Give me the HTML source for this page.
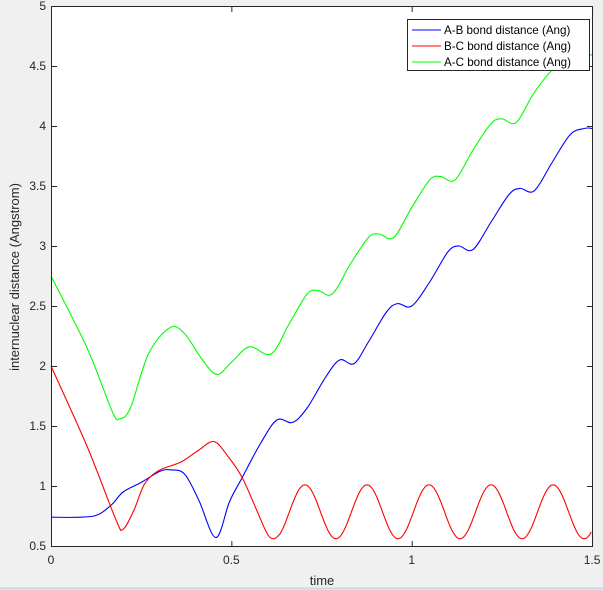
<!DOCTYPE html>
<html><head><meta charset="utf-8"><style>
html,body{margin:0;padding:0;background:#f0f0f0;}
svg{display:block;font-family:"Liberation Sans",Arial,sans-serif;}
</style></head><body>
<svg id="s" width="603" height="590" xmlns="http://www.w3.org/2000/svg">
<rect x="0" y="0" width="603" height="590" fill="#f0f0f0"/>
<line x1="0" y1="588.5" x2="603" y2="588.5" stroke="#c7d9ea" stroke-width="2"/>
<rect x="51" y="6" width="541" height="540" fill="#fff"/>
<g id="curves" fill="none" stroke-width="1.1"></g>
<rect x="51.5" y="6.5" width="541" height="540" fill="none" stroke="#262626" stroke-width="1"/>
<g id="ticks" stroke="#262626" stroke-width="1"></g>
<g id="labels" fill="#262626" font-size="12"></g>
<text x="322" y="585" font-size="13" fill="#262626" text-anchor="middle">time</text>
<text transform="translate(19,277) rotate(-90)" font-size="13" fill="#262626" text-anchor="middle">internuclear distance (Angstrom)</text>
<rect x="407.5" y="19.5" width="182" height="51" fill="#fff" stroke="#262626" stroke-width="1"/>
<line x1="412" y1="30" x2="441" y2="30" stroke="#0000ff"/>
<line x1="412" y1="46" x2="441" y2="46" stroke="#ff0000"/>
<line x1="412" y1="62" x2="441" y2="62" stroke="#00ff00"/>
<g font-size="11.6" fill="#000">
<text x="444" y="34">A-B bond distance (Ang)</text>
<text x="444" y="50">B-C bond distance (Ang)</text>
<text x="444" y="66">A-C bond distance (Ang)</text>
</g>
</svg>
<script>
var X=t=>51+360.7*t, Y=v=>546-120*(v-0.5);
var NS="http://www.w3.org/2000/svg";
function el(p,n,a){var e=document.createElementNS(NS,n);for(var k in a)e.setAttribute(k,a[k]);p.appendChild(e);return e;}
var tk=document.getElementById('ticks'),lb=document.getElementById('labels');
[0,0.5,1,1.5].forEach(function(t){var x=X(t)+0.5;
 el(tk,'line',{x1:x,y1:546,x2:x,y2:541});el(tk,'line',{x1:x,y1:7,x2:x,y2:12});
 var tx=el(lb,'text',{x:X(t),y:564,'text-anchor':'middle'});tx.textContent=String(t);});
for(var v=0.5;v<=5.01;v+=0.5){var y=Y(v)+0.5;
 el(tk,'line',{x1:52,y1:y,x2:57,y2:y});el(tk,'line',{x1:592,y1:y,x2:587,y2:y});
 var tx=el(lb,'text',{x:46,y:Y(v)+4,'text-anchor':'end'});tx.textContent=String(Math.round(v*10)/10);}
function cr(pts){var d='M'+X(pts[0][0]).toFixed(1)+' '+Y(pts[0][1]).toFixed(1);
 for(var i=0;i<pts.length-1;i++){var p0=pts[Math.max(i-1,0)],p1=pts[i],p2=pts[i+1],p3=pts[Math.min(i+2,pts.length-1)];
  var a=[X(p1[0])+(X(p2[0])-X(p0[0]))/6,Y(p1[1])+(Y(p2[1])-Y(p0[1]))/6],b=[X(p2[0])-(X(p3[0])-X(p1[0]))/6,Y(p2[1])-(Y(p3[1])-Y(p1[1]))/6];
  d+=' C'+a[0].toFixed(1)+' '+a[1].toFixed(1)+' '+b[0].toFixed(1)+' '+b[1].toFixed(1)+' '+X(p2[0]).toFixed(1)+' '+Y(p2[1]).toFixed(1);}
 return d;}
var g=document.getElementById('curves');
var green=[[0,2.75],[0.1,2.15],[0.17,1.62],[0.19,1.56],[0.22,1.65],[0.27,2.1],[0.33,2.32],[0.37,2.27],[0.42,2.05],[0.46,1.93],[0.5,2.03],[0.55,2.16],[0.61,2.1],[0.66,2.35],[0.71,2.6],[0.74,2.63],[0.78,2.6],[0.83,2.85],[0.88,3.07],[0.91,3.1],[0.95,3.07],[1.0,3.32],[1.05,3.55],[1.08,3.58],[1.12,3.55],[1.17,3.8],[1.22,4.02],[1.25,4.06],[1.29,4.03],[1.34,4.28],[1.4,4.5],[1.43,4.52],[1.46,4.5],[1.5,4.6]];
var blue=[[0,0.74],[0.08,0.74],[0.13,0.76],[0.17,0.85],[0.2,0.95],[0.25,1.03],[0.3,1.12],[0.33,1.135],[0.37,1.1],[0.41,0.88],[0.457,0.57],[0.495,0.87],[0.53,1.07],[0.58,1.35],[0.626,1.55],[0.67,1.53],[0.71,1.65],[0.76,1.9],[0.8,2.05],[0.84,2.02],[0.88,2.2],[0.93,2.45],[0.96,2.52],[1.0,2.5],[1.05,2.7],[1.1,2.95],[1.13,3.0],[1.17,2.97],[1.22,3.2],[1.27,3.43],[1.3,3.48],[1.34,3.46],[1.39,3.7],[1.44,3.93],[1.48,3.98],[1.5,3.98]];
var f=t=>0.785-0.225*Math.cos(2*Math.PI*(t-0.618)/0.172);
var red=[[0,2.0],[0.1,1.33],[0.18,0.72],[0.2,0.64],[0.23,0.8],[0.26,1.02],[0.3,1.13],[0.36,1.2],[0.41,1.3],[0.452,1.37],[0.49,1.25],[0.53,1.07],[0.57,0.8],[0.6,0.6],[0.618,0.56],[0.635,0.6]];
var d=cr(red);
for(var t=0.638;t<=1.5001;t+=0.004){d+=' L'+X(t).toFixed(1)+' '+Y(f(t)).toFixed(1);}
el(g,'path',{d:cr(green),stroke:'#00ff00'});
el(g,'path',{d:cr(blue),stroke:'#0000ff'});
el(g,'path',{d:d,stroke:'#ff0000'});
</script>
</body></html>
